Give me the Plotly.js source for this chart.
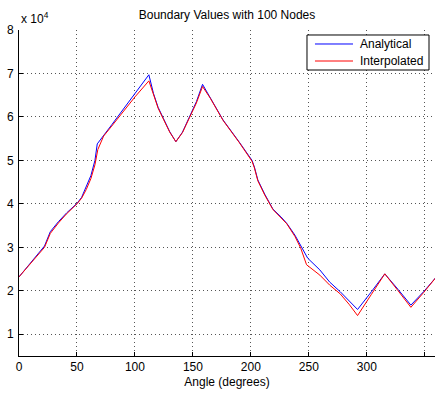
<!DOCTYPE html>
<html>
<head>
<meta charset="utf-8">
<script src="https://cdn.plot.ly/plotly-3.0.1.min.js"></script>
<style>
  html, body { margin: 0; padding: 0; background: #fff; }
  #chart { width: 435px; height: 397px; }
</style>
</head>
<body>
<div id="chart"></div>
<script>
// Boundary values along the perimeter (in units of 1e4), analytical vs. interpolated
const angleAnalytical = [0, 10, 20, 22, 27, 34, 41, 47, 50, 54, 58, 62, 65.5, 67.5, 80, 90, 100, 112,
  116, 120, 124.5, 130, 135.3, 141, 147, 153, 158.3, 165, 176, 190, 201, 203, 206, 212, 219, 226,
  231, 238, 243, 249, 259.5, 268, 277, 285, 292, 304, 315.5, 327, 338, 349, 360];
const valueAnalytical = [2.32, 2.64, 2.96, 3.03, 3.36, 3.59, 3.79, 3.93, 4.01, 4.15, 4.38, 4.65, 5.0, 5.38,
  5.82, 6.18, 6.54, 6.97, 6.54, 6.22, 5.97, 5.66, 5.43, 5.65, 6.0, 6.35, 6.75, 6.45, 5.93, 5.42, 5.0,
  4.85, 4.55, 4.22, 3.88, 3.70, 3.55, 3.28, 3.05, 2.75, 2.48, 2.2, 1.98, 1.75, 1.57, 1.98, 2.39, 2.03,
  1.67, 1.98, 2.32];

const angleInterp = [0, 10, 20, 22, 27, 34, 41, 47, 50, 54, 58, 62, 65.5, 68, 73, 80, 90, 100, 112,
  116, 120, 124.5, 130, 135.3, 141, 147, 153, 158.3, 165, 176, 190, 201, 203, 206, 212, 219, 226,
  231, 238, 243, 248, 259.5, 268, 277, 285, 292, 304, 315.5, 327, 338, 349, 360];
const valueInterp = [2.32, 2.63, 2.94, 3.0, 3.32, 3.56, 3.77, 3.92, 4.0, 4.13, 4.33, 4.58, 4.9, 5.25,
  5.56, 5.79, 6.13, 6.46, 6.83, 6.50, 6.2, 5.95, 5.65, 5.43, 5.64, 5.98, 6.32, 6.70, 6.43, 5.92, 5.41,
  4.98, 4.83, 4.53, 4.2, 3.87, 3.69, 3.54, 3.25, 2.98, 2.60, 2.36, 2.13, 1.93, 1.68, 1.43, 1.92, 2.39,
  2.0, 1.62, 1.96, 2.32];

const seriesNames = ['Analytical', 'Interpolated'];
const seriesColors = ['#0000ff', '#ff0000'];

const xTicks = [0, 50, 100, 150, 200, 250, 300, 350];
const yTicks = [1, 2, 3, 4, 5, 6, 7, 8];

const FONT = 'Liberation Sans, Arial, Helvetica, sans-serif';

const traces = [
  {
    x: angleAnalytical, y: valueAnalytical, type: 'scatter', mode: 'lines',
    name: seriesNames[0], line: { color: seriesColors[0], width: 1 }
  },
  {
    x: angleInterp, y: valueInterp, type: 'scatter', mode: 'lines',
    name: seriesNames[1], line: { color: seriesColors[1], width: 1 }
  }
];

const axisCommon = {
  showline: true, linecolor: '#000', linewidth: 1,
  ticks: 'inside', ticklen: 4, tickcolor: '#000', tickwidth: 1,
  showgrid: true, gridcolor: '#555', gridwidth: 1, griddash: '1px,3px',
  zeroline: false, tickfont: { family: FONT, size: 12, color: '#000' },
  mirror: false
};

// Boxed legend in the upper-right corner, positioned in paper coordinates
const legendBox = { x0: 0.6923, x1: 0.9856, y0: 0.8773, y1: 0.9847 };
const legendRows = [0.9571, 0.9049];
const legendLine = { x0: 0.7115, x1: 0.8029, textX: 0.8149 };

const shapes = [
  {
    type: 'rect', xref: 'paper', yref: 'paper',
    x0: legendBox.x0, x1: legendBox.x1, y0: legendBox.y0, y1: legendBox.y1,
    fillcolor: '#fff', line: { color: '#000', width: 1 }, layer: 'above'
  }
];
const annotations = [
  {
    text: 'x 10<sup>4</sup>', xref: 'paper', yref: 'paper',
    x: 0, y: 1, xanchor: 'left', yanchor: 'bottom', yshift: 2,
    showarrow: false, font: { family: FONT, size: 12, color: '#000' }
  }
];
seriesNames.forEach((name, i) => {
  shapes.push({
    type: 'line', xref: 'paper', yref: 'paper',
    x0: legendLine.x0, x1: legendLine.x1, y0: legendRows[i], y1: legendRows[i],
    line: { color: seriesColors[i], width: 1 }, layer: 'above'
  });
  annotations.push({
    text: name, xref: 'paper', yref: 'paper',
    x: legendLine.textX, y: legendRows[i], xanchor: 'left', yanchor: 'middle',
    showarrow: false, font: { family: FONT, size: 12, color: '#000' }
  });
});

const layout = {
  width: 435, height: 397,
  margin: { l: 19, r: 0, t: 30, b: 41 },
  paper_bgcolor: '#fff', plot_bgcolor: '#fff',
  font: { family: FONT, size: 12, color: '#000' },
  title: {
    text: 'Boundary Values with 100 Nodes',
    font: { family: FONT, size: 12, color: '#000' },
    x: 0.5, xref: 'paper', xanchor: 'center',
    y: 12, yref: 'container', yanchor: 'middle'
  },
  xaxis: Object.assign({}, axisCommon, {
    range: [0, 358.8], tickmode: 'array', tickvals: xTicks, ticktext: xTicks.map(String),
    title: { text: 'Angle (degrees)', font: { family: FONT, size: 12, color: '#000' }, standoff: 4 }
  }),
  yaxis: Object.assign({}, axisCommon, {
    range: [0.5, 8], tickmode: 'array', tickvals: yTicks, ticktext: yTicks.map(String),
    ticklabelstandoff: 2
  }),
  showlegend: false,
  shapes: shapes,
  annotations: annotations
};

Plotly.newPlot('chart', traces, layout, { displayModeBar: false, staticPlot: true });
</script>
</body>
</html>
